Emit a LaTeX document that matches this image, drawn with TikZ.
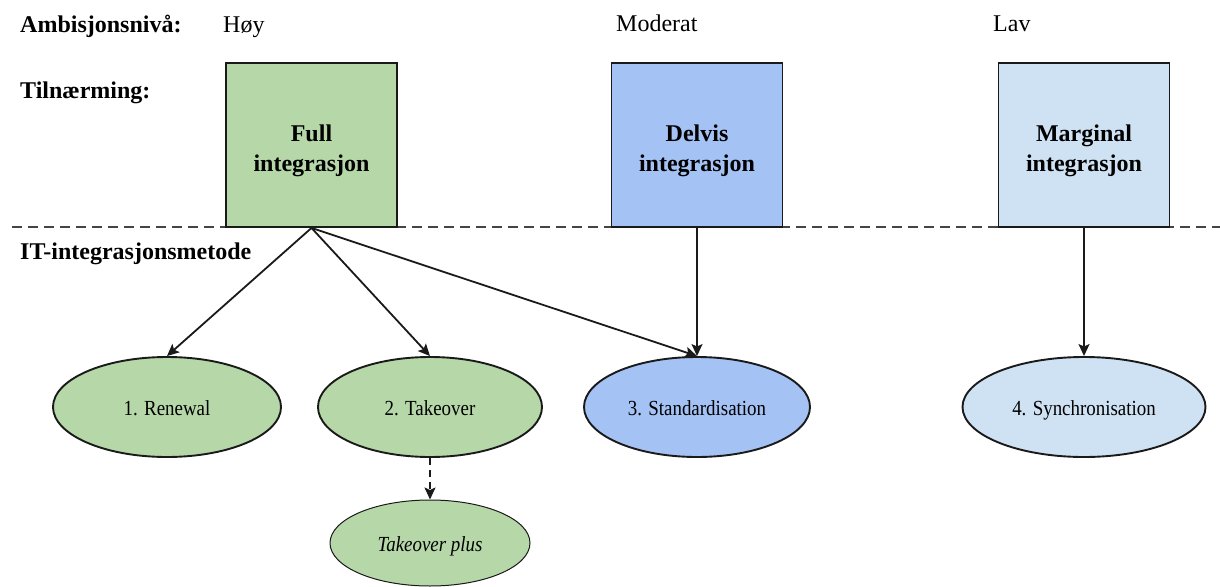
\documentclass[tikz,border=0pt]{standalone}
\usepackage{fontspec}
\setmainfont{Liberation Serif}
\newfontfamily\ellfont{Liberation Serif}[FakeStretch=0.88]
\usetikzlibrary{shapes.geometric,arrows.meta}

\definecolor{fullgreen}{HTML}{B6D7A8}
\definecolor{delvisblue}{HTML}{A4C2F4}
\definecolor{marglight}{HTML}{CFE2F3}
\definecolor{edgeink}{HTML}{1A1A1A}
\definecolor{sepgrey}{HTML}{444444}

\begin{document}
\begin{tikzpicture}[x=1pt,y=-1pt,
  rowlabel/.style={anchor=base west,inner sep=0,font=\fontsize{24}{28}\selectfont\bfseries},
  levellabel/.style={anchor=base west,inner sep=0,font=\fontsize{24}{28}\selectfont},
  approach/.style={draw=edgeink,line width=1.9pt,minimum width=171pt,minimum height=164pt,inner sep=0},
  boxtext/.style={inner sep=0,align=center,font=\fontsize{24}{30}\selectfont\bfseries},
  method/.style={ellipse,draw=edgeink,line width=1.9pt,inner sep=0,minimum height=100pt,
    text height=16pt,text depth=0pt,font=\ellfont\fontsize{21.5}{24}\selectfont},
  link/.style={draw=edgeink,line width=1.8pt,-{Stealth[length=12pt,width=11pt,inset=2.5pt]}},
  weaklink/.style={link,dash pattern=on 7pt off 5pt},
]
\useasboundingbox (0,0) rectangle (1220,586);

% row headings and ambition levels
\node[rowlabel] (amb) at (20,33) {Ambisjonsnivå:};
\node[levellabel] (hoy) at (223,33) {Høy};
\node[levellabel] (mod) at (616,32) {Moderat};
\node[levellabel] (lav) at (993,32) {Lav};
\node[rowlabel] (tiln) at (20,98) {Tilnærming:};
\node[rowlabel] (itm) at (20,259) {IT-integrasjonsmetode};

% separator between approach and method rows
\coordinate (sepL) at (12,227);
\coordinate (sepR) at (1220,227);
\draw[sepgrey,line width=2pt,dash pattern=on 10pt off 6pt] (sepL) -- (sepR);

% approaches
\node[approach,fill=fullgreen] (full) at (311.5,145) {};
\node[approach,fill=delvisblue] (delvis) at (697,145) {};
\node[approach,fill=marglight] (marg) at (1084,145) {};
\node[boxtext] (fulltxt) at ([yshift=-6pt]full.center) {Full\\integrasjon};
\node[boxtext] (delvistxt) at ([yshift=-6pt]delvis.center) {Delvis\\integrasjon};
\node[boxtext] (margtxt) at ([yshift=-6pt]marg.center) {Marginal\\integrasjon};

% IT integration methods
\node[method,fill=fullgreen,minimum width=228pt] (renew) at (167,407) {1. Renewal};
\node[method,fill=fullgreen,minimum width=224pt] (take) at (430,407) {2. Takeover};
\node[method,fill=delvisblue,minimum width=226pt] (std) at (697,407) {3. Standardisation};
\node[method,fill=marglight,minimum width=243pt] (sync) at (1084,407) {4. Synchronisation};
\node[method,fill=fullgreen,line width=1pt,minimum width=200pt,minimum height=86pt,
  font=\ellfont\itshape\fontsize{21.5}{24}\selectfont] (plus) at (430,543) {Takeover plus};

% connectors
\draw[link] (full.south) -- (renew.north);
\draw[link] (full.south) -- (take.north);
\draw[link] (full.south) -- (std.north);
\draw[link] (delvis.south) -- (std.north);
\draw[link] (marg.south) -- (sync.north);
\draw[weaklink] (take.south) -- (plus.north);
\end{tikzpicture}
\end{document}
